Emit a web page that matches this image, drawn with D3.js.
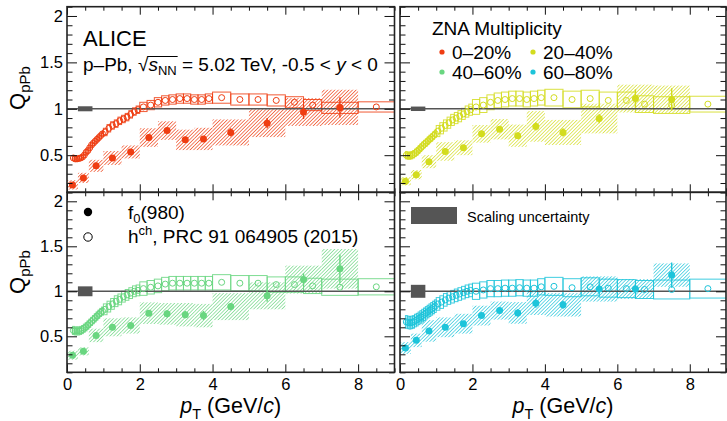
<!DOCTYPE html>
<html>
<head>
<meta charset="utf-8">
<script src="https://cdn.jsdelivr.net/npm/d3@7"></script>
<style>
  body { margin: 0; background: #fff; }
  svg { display: block; }
  text { font-family: "Liberation Sans", Arial, Helvetica, sans-serif; fill: #000; }
</style>
</head>
<body>
<svg id="chart" width="727" height="421"></svg>
<script>
// ---- charged-hadron Q_pPb (open points), common pT binning ----
const hEdges = [0.15,0.2,0.25,0.3,0.35,0.4,0.45,0.5,0.55,0.6,0.65,0.7,0.75,0.8,0.85,0.9,0.95,1.0,
  1.1,1.2,1.3,1.4,1.5,1.6,1.7,1.8,1.9,2.0,2.2,2.4,2.6,2.8,3.0,3.2,3.4,3.6,3.8,4.0,
  4.5,5.0,5.5,6.0,6.5,7.0,8.0,10.0];
const hPt = [0.175,0.225,0.275,0.325,0.375,0.425,0.475,0.525,0.575,0.625,0.675,0.725,0.775,0.825,0.875,0.925,0.975,
  1.05,1.15,1.25,1.35,1.45,1.55,1.65,1.75,1.85,1.95,
  2.1,2.3,2.5,2.7,2.9,3.1,3.3,3.5,3.7,3.9,
  4.25,4.75,5.25,5.75,6.25,6.75,7.5,8.5];

const hVal0020 = [0.47,0.46,0.46,0.465,0.47,0.48,0.50,0.53,0.55,0.58,0.61,0.63,0.65,0.67,0.69,0.71,0.73,
  0.75,0.79,0.82,0.84,0.87,0.89,0.91,0.94,0.97,0.99,
  1.02,1.04,1.07,1.09,1.10,1.11,1.11,1.10,1.10,1.11,
  1.12,1.10,1.10,1.09,1.07,1.04,1.01,1.02];
const hVal2040 = [0.50,0.495,0.495,0.50,0.51,0.525,0.54,0.56,0.58,0.60,0.62,0.635,0.655,0.675,0.69,0.71,0.73,
  0.76,0.79,0.82,0.85,0.88,0.90,0.92,0.945,0.97,0.99,
  1.02,1.04,1.07,1.09,1.10,1.11,1.11,1.10,1.11,1.12,
  1.12,1.10,1.11,1.09,1.09,1.05,1.04,1.05];
const hVal4060 = [0.565,0.56,0.56,0.56,0.565,0.575,0.59,0.605,0.625,0.645,0.665,0.685,0.705,0.725,0.745,0.765,0.78,
  0.80,0.83,0.86,0.89,0.91,0.94,0.96,0.98,1.0,1.01,
  1.03,1.045,1.06,1.08,1.09,1.09,1.09,1.09,1.09,1.09,
  1.10,1.09,1.09,1.075,1.075,1.06,1.045,1.05];
const hVal6080 = [0.66,0.655,0.65,0.655,0.66,0.675,0.685,0.70,0.715,0.73,0.745,0.76,0.775,0.79,0.805,0.82,0.835,
  0.86,0.88,0.905,0.925,0.94,0.955,0.97,0.985,1.0,1.01,
  1.0,1.015,1.03,1.03,1.035,1.035,1.04,1.035,1.035,1.05,
  1.055,1.04,1.05,1.035,1.03,1.02,1.02,1.03];

const hSys0020 = [0.025,0.025,0.025,0.025,0.025,0.025,0.025,0.025,0.025,0.025,0.025,0.025,0.025,0.025,0.025,0.025,0.025,
  0.04,0.04,0.04,0.04,0.04,0.04,0.04,0.04,0.04,0.04,
  0.05,0.05,0.05,0.05,0.05,0.05,0.05,0.05,0.05,0.05,
  0.06,0.06,0.06,0.06,0.06,0.06,0.06,0.055];
const hSys2040 = [0.04,0.04,0.04,0.04,0.04,0.04,0.04,0.04,0.04,0.04,0.04,0.04,0.04,0.04,0.04,0.04,0.04,
  0.06,0.06,0.06,0.06,0.06,0.06,0.06,0.06,0.06,0.06,
  0.08,0.08,0.08,0.08,0.08,0.08,0.08,0.08,0.08,0.08,
  0.09,0.09,0.09,0.09,0.09,0.09,0.09,0.085];
const hSys4060 = [0.045,0.045,0.045,0.045,0.045,0.045,0.045,0.045,0.045,0.045,0.045,0.045,0.045,0.045,0.045,0.045,0.045,
  0.06,0.06,0.06,0.06,0.06,0.06,0.06,0.06,0.06,0.06,
  0.075,0.075,0.075,0.075,0.075,0.075,0.075,0.075,0.075,0.075,
  0.085,0.085,0.085,0.085,0.085,0.085,0.09,0.09];
const hSys6080 = [0.07,0.07,0.07,0.07,0.07,0.07,0.07,0.07,0.07,0.07,0.07,0.07,0.07,0.07,0.07,0.07,0.07,
  0.07,0.07,0.07,0.07,0.07,0.07,0.07,0.07,0.07,0.07,
  0.09,0.09,0.09,0.09,0.09,0.09,0.09,0.09,0.09,0.09,
  0.1,0.1,0.1,0.1,0.1,0.1,0.105,0.105];

// ---- f0(980) Q_pPb (filled points) ----
const fLo = [0,0.3,0.6,1.0,1.5,2.0,2.5,3.0,3.5,4,5,6,7];
const fHi = [0.3,0.6,1.0,1.5,2.0,2.5,3.0,3.5,4.0,5,6,7,8];
const fPt = [0.15,0.45,0.8,1.25,1.75,2.25,2.75,3.25,3.75,4.5,5.5,6.5,7.5];

const fVal0020 = [0.18,0.255,0.385,0.47,0.535,0.69,0.765,0.665,0.675,0.745,0.845,0.965,1.015];
const fVal2040 = [0.22,0.29,0.43,0.54,0.58,0.73,0.78,0.71,0.81,0.745,0.895,1.11,1.10];
const fVal4060 = [0.29,0.333,0.51,0.60,0.62,0.757,0.75,0.74,0.73,0.83,0.95,1.13,1.25];
const fVal6080 = [0.37,0.455,0.56,0.60,0.64,0.73,0.786,0.76,0.867,0.85,1.026,1.026,1.18];

const fStat0020 = [0.015,0.015,0.015,0.015,0.015,0.02,0.02,0.025,0.03,0.045,0.055,0.075,0.11];
const fStat2040 = [0.015,0.015,0.015,0.02,0.02,0.025,0.03,0.035,0.045,0.045,0.05,0.1,0.12];
const fStat4060 = [0.015,0.015,0.02,0.02,0.02,0.03,0.04,0.04,0.05,0.04,0.065,0.07,0.16];
const fStat6080 = [0.015,0.015,0.02,0.02,0.02,0.025,0.035,0.04,0.05,0.045,0.05,0.05,0.14];

const fSys0020 = [0.05,0.055,0.065,0.075,0.07,0.1,0.1,0.11,0.12,0.14,0.15,0.15,0.19];
const fSys2040 = [0.045,0.05,0.07,0.1,0.08,0.095,0.11,0.12,0.165,0.135,0.16,0.15,0.15];
const fSys4060 = [0.05,0.045,0.075,0.10,0.09,0.12,0.12,0.13,0.13,0.15,0.15,0.155,0.22];
const fSys6080 = [0.065,0.075,0.12,0.11,0.11,0.11,0.1,0.12,0.13,0.13,0.14,0.11,0.13];

// normalisation (scaling) uncertainty per multiplicity class
const normUnc = [0.027, 0.024, 0.055, 0.072];
const normPtRange = [0.3, 0.7];

const classLabels = ["0\u201320%", "20\u201340%", "40\u201360%", "60\u201380%"];
const classColors = ["#ef3d12", "#d3dc1e", "#69d680", "#1dc4da"];

const xTickLabels = [0, 2, 4, 6, 8];
const yTickLabels = [0.5, 1, 1.5, 2];

const classes = [
  {h: hVal0020, hs: hSys0020, f: fVal0020, fs: fSys0020, fe: fStat0020},
  {h: hVal2040, hs: hSys2040, f: fVal2040, fs: fSys2040, fe: fStat2040},
  {h: hVal4060, hs: hSys4060, f: fVal4060, fs: fSys4060, fe: fStat4060},
  {h: hVal6080, hs: hSys6080, f: fVal6080, fs: fSys6080, fe: fStat6080}
];

// ---- layout ----
const svg = d3.select("#chart");
const defs = svg.append("defs");
const colX = [[67, 394.5], [400, 726]];
const rowY = [[6.7, 192.3], [192.3, 372.3]];
const xDomain = [0, 9], yDomain = [0.1, 2.1];

classColors.forEach((c, i) => {
  const p = defs.append("pattern").attr("id", "hatch" + i)
    .attr("patternUnits", "userSpaceOnUse").attr("width", 2.5).attr("height", 2.5)
    .attr("patternTransform", "rotate(45)");
  p.append("line").attr("x1", 0).attr("y1", 0).attr("x2", 0).attr("y2", 2.5)
    .attr("stroke", c).attr("stroke-width", 1.3);
});

const minorX = d3.range(0, 9.01, 0.5).filter(v => !xTickLabels.includes(v));
const minorY = d3.range(0.1, 2.101, 0.1).map(v => +v.toFixed(1)).filter(v => !yTickLabels.includes(v));

classes.forEach((cl, i) => {
  const col = i % 2, row = Math.floor(i / 2);
  const [x0, x1] = colX[col], [y0, y1] = rowY[row];
  const color = classColors[i];
  const x = d3.scaleLinear().domain(xDomain).range([x0, x1]);
  const y = d3.scaleLinear().domain(yDomain).range([y1, y0]);

  defs.append("clipPath").attr("id", "clip" + i)
    .append("rect").attr("x", x0).attr("y", y0).attr("width", x1 - x0).attr("height", y1 - y0);
  const g = svg.append("g").attr("clip-path", `url(#clip${i})`);

  // f0 systematic boxes (hatched)
  g.selectAll("rect.fsys").data(fPt).join("rect").attr("class", "fsys")
    .attr("x", (d, k) => x(fLo[k])).attr("width", (d, k) => x(fHi[k]) - x(fLo[k]))
    .attr("y", (d, k) => y(cl.f[k] + cl.fs[k]))
    .attr("height", (d, k) => y(cl.f[k] - cl.fs[k]) - y(cl.f[k] + cl.fs[k]))
    .attr("fill", `url(#hatch${i})`);

  // charged-hadron systematic boxes (open)
  g.selectAll("rect.hsys").data(hPt).join("rect").attr("class", "hsys")
    .attr("x", (d, k) => x(hEdges[k])).attr("width", (d, k) => x(hEdges[k + 1]) - x(hEdges[k]))
    .attr("y", (d, k) => y(cl.h[k] + cl.hs[k]))
    .attr("height", (d, k) => y(cl.h[k] - cl.hs[k]) - y(cl.h[k] + cl.hs[k]))
    .attr("fill", "none").attr("stroke", color).attr("stroke-width", 1).attr("stroke-opacity", 0.85);

  // unity reference line
  g.append("line").attr("x1", x0).attr("x2", x1).attr("y1", y(1)).attr("y2", y(1))
    .attr("stroke", "#555").attr("stroke-width", 1.5);

  // scaling uncertainty box
  g.append("rect").attr("x", x(normPtRange[0])).attr("width", x(normPtRange[1]) - x(normPtRange[0]))
    .attr("y", y(1 + normUnc[i])).attr("height", y(1 - normUnc[i]) - y(1 + normUnc[i]))
    .attr("fill", "#555");

  // charged-hadron points
  g.selectAll("circle.h").data(hPt).join("circle").attr("class", "h")
    .attr("cx", d => x(d)).attr("cy", (d, k) => y(cl.h[k])).attr("r", 3)
    .attr("fill", "none").attr("stroke", color).attr("stroke-width", 1);

  // f0 statistical errors and points
  g.selectAll("line.fe").data(fPt).join("line").attr("class", "fe")
    .attr("x1", d => x(d)).attr("x2", d => x(d))
    .attr("y1", (d, k) => y(cl.f[k] - cl.fe[k])).attr("y2", (d, k) => y(cl.f[k] + cl.fe[k]))
    .attr("stroke", color).attr("stroke-width", 1.4);
  g.selectAll("circle.f").data(fPt).join("circle").attr("class", "f")
    .attr("cx", d => x(d)).attr("cy", (d, k) => y(cl.f[k])).attr("r", 3.5)
    .attr("fill", color);

  // axes: ticks on all four sides, pointing inwards
  const styleAxis = sel => {
    sel.select(".domain").remove();
    sel.selectAll(".tick line").attr("stroke", "#111").attr("stroke-width", 1);
    sel.attr("font-family", null).attr("font-size", null);
  };
  const showX = row === 1, showY = col === 0;
  svg.append("g").attr("transform", `translate(0,${y1})`)
    .call(d3.axisBottom(x).tickValues(xTickLabels).tickSize(-8).tickPadding(6)
      .tickFormat(showX ? d3.format("d") : () => ""))
    .call(styleAxis)
    .selectAll("text").attr("font-size", "16.5px");
  svg.append("g").attr("transform", `translate(0,${y1})`)
    .call(d3.axisBottom(x).tickValues(minorX).tickSize(-4).tickFormat(() => "")).call(styleAxis);
  svg.append("g").attr("transform", `translate(0,${y0})`)
    .call(d3.axisTop(x).tickValues(xTickLabels).tickSize(-8).tickFormat(() => "")).call(styleAxis);
  svg.append("g").attr("transform", `translate(0,${y0})`)
    .call(d3.axisTop(x).tickValues(minorX).tickSize(-4).tickFormat(() => "")).call(styleAxis);

  svg.append("g").attr("transform", `translate(${x0},0)`)
    .call(d3.axisLeft(y).tickValues(yTickLabels).tickSize(-10).tickPadding(4)
      .tickFormat(showY ? d3.format("") : () => ""))
    .call(styleAxis)
    .selectAll("text").attr("font-size", "16.5px");
  svg.append("g").attr("transform", `translate(${x0},0)`)
    .call(d3.axisLeft(y).tickValues(minorY).tickSize(-5.5).tickFormat(() => "")).call(styleAxis);
  svg.append("g").attr("transform", `translate(${x1},0)`)
    .call(d3.axisRight(y).tickValues(yTickLabels).tickSize(-10).tickFormat(() => "")).call(styleAxis);
  svg.append("g").attr("transform", `translate(${x1},0)`)
    .call(d3.axisRight(y).tickValues(minorY).tickSize(-5.5).tickFormat(() => "")).call(styleAxis);

  // frame
  svg.append("rect").attr("x", x0).attr("y", y0).attr("width", x1 - x0).attr("height", y1 - y0)
    .attr("fill", "none").attr("stroke", "#222").attr("stroke-width", 1.6);

  // y-axis title on left panels
  if (showY) {
    const cy = row === 0 ? 88 : 272;
    const t = svg.append("text").attr("transform", `translate(25,${cy}) rotate(-90)`)
      .attr("text-anchor", "middle").attr("font-size", "22px");
    t.append("tspan").text("Q");
    t.append("tspan").attr("font-size", "15px").attr("dy", 5).text("pPb");
  }
  // x-axis title on bottom panels
  if (showX) {
    const t = svg.append("text").attr("x", (x0 + x1) / 2).attr("y", 413)
      .attr("text-anchor", "middle").attr("font-size", "21.5px");
    t.append("tspan").attr("font-style", "italic").text("p");
    t.append("tspan").attr("font-size", "14.5px").attr("dy", 6).text("T");
    t.append("tspan").attr("dy", -6).text(" (GeV/");
    t.append("tspan").attr("font-style", "italic").text("c");
    t.append("tspan").text(")");
  }
});

// ---- annotations: top-left panel ----
svg.append("text").attr("x", 83).attr("y", 46).attr("font-size", "22px").text("ALICE");
const sys = svg.append("text").attr("x", 83).attr("y", 71).attr("font-size", "19px");
sys.append("tspan").text("p\u2013Pb, ");
sys.append("tspan").text("\u221A");
sys.append("tspan").attr("font-style", "italic").text("s");
sys.append("tspan").attr("font-size", "13px").attr("dy", 4).text("NN");
sys.append("tspan").attr("dy", -4).text(" = 5.02 TeV, -0.5 < ");
sys.append("tspan").attr("font-style", "italic").text("y");
sys.append("tspan").text(" < 0");
{
  const node = sys.node();
  const prefixLen = "p\u2013Pb, ".length;
  const a = node.getExtentOfChar(prefixLen);
  const b = node.getExtentOfChar(prefixLen + 3);
  svg.append("line").attr("x1", a.x + a.width - 1).attr("x2", b.x + b.width + 1)
    .attr("y1", 56.5).attr("y2", 56.5).attr("stroke", "#000").attr("stroke-width", 1);
}

// ---- multiplicity legend: top-right panel ----
svg.append("text").attr("x", 432).attr("y", 35).attr("font-size", "19px").text("ZNA Multiplicity");
const legPos = [[442, 52], [533, 52], [442, 72], [533, 72]];
classLabels.forEach((lab, i) => {
  const [lx, ly] = legPos[i];
  svg.append("circle").attr("cx", lx).attr("cy", ly).attr("r", 2.6).attr("fill", classColors[i]);
  svg.append("text").attr("x", lx + 10).attr("y", ly + 6.5).attr("font-size", "19px").text(lab);
});

// ---- marker legend: bottom-left panel ----
svg.append("circle").attr("cx", 88).attr("cy", 212).attr("r", 4.2).attr("fill", "#000");
const l1 = svg.append("text").attr("x", 128).attr("y", 218.5).attr("font-size", "19px");
l1.append("tspan").text("f");
l1.append("tspan").attr("font-size", "13px").attr("dy", 4).text("0");
l1.append("tspan").attr("dy", -4).text("(980)");
svg.append("circle").attr("cx", 88).attr("cy", 237).attr("r", 4.2)
  .attr("fill", "none").attr("stroke", "#000").attr("stroke-width", 1);
const l2 = svg.append("text").attr("x", 128).attr("y", 243).attr("font-size", "19px");
l2.append("tspan").text("h");
l2.append("tspan").attr("font-size", "13px").attr("dy", -8).text("ch");
l2.append("tspan").attr("dy", 8).text(", PRC 91 064905 (2015)");

// ---- scaling uncertainty legend: bottom-right panel ----
svg.append("rect").attr("x", 411).attr("y", 207).attr("width", 46).attr("height", 17).attr("fill", "#555");
svg.append("text").attr("x", 467).attr("y", 222).attr("font-size", "14.5px").text("Scaling uncertainty");
</script>
</body>
</html>
